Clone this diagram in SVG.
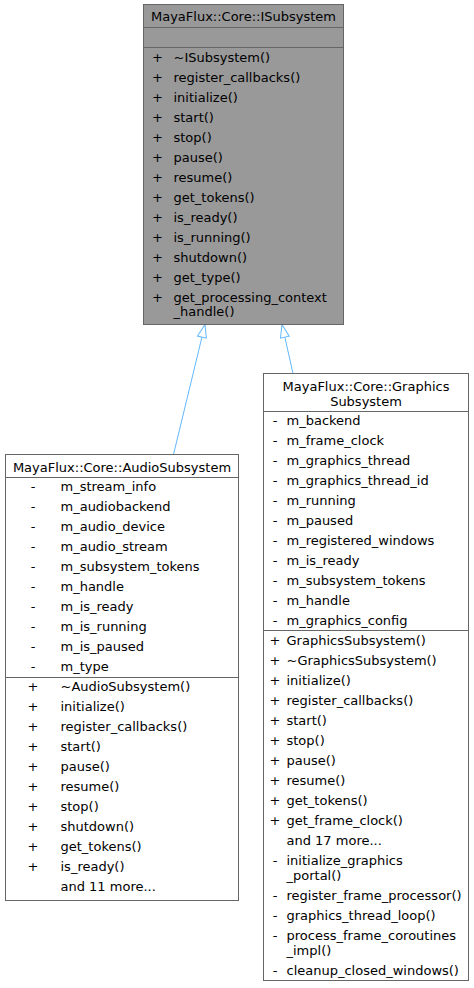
<svg xmlns="http://www.w3.org/2000/svg" width="474" height="988" viewBox="0 0 474 988">
<style>
.t{font-family:"DejaVu Sans","Liberation Sans",sans-serif;font-size:13px;fill:#000}
.m{text-anchor:middle}
.box{stroke:#666666;stroke-width:1}
.sep{stroke:#666666;stroke-width:1;fill:none}
.edge{stroke:#63b8ff;stroke-width:1;fill:none}
</style>
<defs>
<marker id="inh" markerUnits="userSpaceOnUse" markerWidth="16" markerHeight="12" refX="13.5" refY="5" orient="auto" overflow="visible">
<path d="M0.5,0.5 L13.5,5 L0.5,9.5 Z" fill="#ffffff" stroke="#63b8ff" stroke-width="1"/>
</marker>
</defs>
<rect x="0" y="0" width="474" height="988" fill="#ffffff"/>

<g id="edges">
<path class="edge" d="M173.5,454.5 L205,324.5" marker-end="url(#inh)"/>
<path class="edge" d="M293,373.5 L282,324.5" marker-end="url(#inh)"/>
</g>

<g id="node-ISubsystem">
<rect class="box" x="143.5" y="4.5" width="200" height="320" fill="#999999"/>
<line class="sep" x1="143.5" y1="27.5" x2="343.5" y2="27.5"/>
<line class="sep" x1="143.5" y1="47.5" x2="343.5" y2="47.5"/>
<text class="t m" x="243.5" y="21">MayaFlux::Core::ISubsystem</text>
<g class="t">
<text class="t m" x="157.5" y="61.5">+</text><text class="t" x="173.5" y="61.5">~ISubsystem()</text>
<text class="t m" x="157.5" y="81.5">+</text><text class="t" x="173.5" y="81.5">register_callbacks()</text>
<text class="t m" x="157.5" y="101.5">+</text><text class="t" x="173.5" y="101.5">initialize()</text>
<text class="t m" x="157.5" y="121.5">+</text><text class="t" x="173.5" y="121.5">start()</text>
<text class="t m" x="157.5" y="141.5">+</text><text class="t" x="173.5" y="141.5">stop()</text>
<text class="t m" x="157.5" y="161.5">+</text><text class="t" x="173.5" y="161.5">pause()</text>
<text class="t m" x="157.5" y="181.5">+</text><text class="t" x="173.5" y="181.5">resume()</text>
<text class="t m" x="157.5" y="201.5">+</text><text class="t" x="173.5" y="201.5">get_tokens()</text>
<text class="t m" x="157.5" y="221.5">+</text><text class="t" x="173.5" y="221.5">is_ready()</text>
<text class="t m" x="157.5" y="241.5">+</text><text class="t" x="173.5" y="241.5">is_running()</text>
<text class="t m" x="157.5" y="261.5">+</text><text class="t" x="173.5" y="261.5">shutdown()</text>
<text class="t m" x="157.5" y="281.5">+</text><text class="t" x="173.5" y="281.5">get_type()</text>
<text class="t m" x="157.5" y="301.5">+</text><text class="t" x="173.5" y="301.5">get_processing_context</text>
<text class="t" x="173.5" y="316">_handle()</text>
</g>
</g>

<g id="node-AudioSubsystem">
<rect class="box" x="5.5" y="454.5" width="233" height="446" fill="#ffffff"/>
<line class="sep" x1="5.5" y1="477.5" x2="238.5" y2="477.5"/>
<line class="sep" x1="5.5" y1="677.5" x2="238.5" y2="677.5"/>
<text class="t m" x="122" y="471.5">MayaFlux::Core::AudioSubsystem</text>
<text class="t m" x="33" y="491">-</text><text class="t" x="60.5" y="491">m_stream_info</text>
<text class="t m" x="33" y="511">-</text><text class="t" x="60.5" y="511">m_audiobackend</text>
<text class="t m" x="33" y="531">-</text><text class="t" x="60.5" y="531">m_audio_device</text>
<text class="t m" x="33" y="551">-</text><text class="t" x="60.5" y="551">m_audio_stream</text>
<text class="t m" x="33" y="571">-</text><text class="t" x="60.5" y="571">m_subsystem_tokens</text>
<text class="t m" x="33" y="591">-</text><text class="t" x="60.5" y="591">m_handle</text>
<text class="t m" x="33" y="611">-</text><text class="t" x="60.5" y="611">m_is_ready</text>
<text class="t m" x="33" y="631">-</text><text class="t" x="60.5" y="631">m_is_running</text>
<text class="t m" x="33" y="651">-</text><text class="t" x="60.5" y="651">m_is_paused</text>
<text class="t m" x="33" y="671">-</text><text class="t" x="60.5" y="671">m_type</text>
<text class="t m" x="33" y="691">+</text><text class="t" x="60.5" y="691">~AudioSubsystem()</text>
<text class="t m" x="33" y="711">+</text><text class="t" x="60.5" y="711">initialize()</text>
<text class="t m" x="33" y="731">+</text><text class="t" x="60.5" y="731">register_callbacks()</text>
<text class="t m" x="33" y="751">+</text><text class="t" x="60.5" y="751">start()</text>
<text class="t m" x="33" y="771">+</text><text class="t" x="60.5" y="771">pause()</text>
<text class="t m" x="33" y="791">+</text><text class="t" x="60.5" y="791">resume()</text>
<text class="t m" x="33" y="811">+</text><text class="t" x="60.5" y="811">stop()</text>
<text class="t m" x="33" y="831">+</text><text class="t" x="60.5" y="831">shutdown()</text>
<text class="t m" x="33" y="851">+</text><text class="t" x="60.5" y="851">get_tokens()</text>
<text class="t m" x="33" y="871">+</text><text class="t" x="60.5" y="871">is_ready()</text>
<text class="t" x="60.5" y="891">and 11 more...</text>
</g>

<g id="node-GraphicsSubsystem">
<rect class="box" x="263.5" y="373.5" width="205" height="607" fill="#ffffff"/>
<line class="sep" x1="263.5" y1="411.5" x2="468.5" y2="411.5"/>
<line class="sep" x1="263.5" y1="630.5" x2="468.5" y2="630.5"/>
<text class="t m" x="366" y="390.5">MayaFlux::Core::Graphics</text>
<text class="t m" x="366" y="405.5">Subsystem</text>
<text class="t m" x="275" y="424.5">-</text><text class="t" x="286.5" y="424.5">m_backend</text>
<text class="t m" x="275" y="444.5">-</text><text class="t" x="286.5" y="444.5">m_frame_clock</text>
<text class="t m" x="275" y="464.5">-</text><text class="t" x="286.5" y="464.5">m_graphics_thread</text>
<text class="t m" x="275" y="484.5">-</text><text class="t" x="286.5" y="484.5">m_graphics_thread_id</text>
<text class="t m" x="275" y="504.5">-</text><text class="t" x="286.5" y="504.5">m_running</text>
<text class="t m" x="275" y="524.5">-</text><text class="t" x="286.5" y="524.5">m_paused</text>
<text class="t m" x="275" y="544.5">-</text><text class="t" x="286.5" y="544.5">m_registered_windows</text>
<text class="t m" x="275" y="564.5">-</text><text class="t" x="286.5" y="564.5">m_is_ready</text>
<text class="t m" x="275" y="584.5">-</text><text class="t" x="286.5" y="584.5">m_subsystem_tokens</text>
<text class="t m" x="275" y="604.5">-</text><text class="t" x="286.5" y="604.5">m_handle</text>
<text class="t m" x="275" y="624.5">-</text><text class="t" x="286.5" y="624.5">m_graphics_config</text>
<text class="t m" x="275" y="644.5">+</text><text class="t" x="286.5" y="644.5">GraphicsSubsystem()</text>
<text class="t m" x="275" y="664.5">+</text><text class="t" x="286.5" y="664.5">~GraphicsSubsystem()</text>
<text class="t m" x="275" y="684.5">+</text><text class="t" x="286.5" y="684.5">initialize()</text>
<text class="t m" x="275" y="704.5">+</text><text class="t" x="286.5" y="704.5">register_callbacks()</text>
<text class="t m" x="275" y="724.5">+</text><text class="t" x="286.5" y="724.5">start()</text>
<text class="t m" x="275" y="744.5">+</text><text class="t" x="286.5" y="744.5">stop()</text>
<text class="t m" x="275" y="764.5">+</text><text class="t" x="286.5" y="764.5">pause()</text>
<text class="t m" x="275" y="784.5">+</text><text class="t" x="286.5" y="784.5">resume()</text>
<text class="t m" x="275" y="804.5">+</text><text class="t" x="286.5" y="804.5">get_tokens()</text>
<text class="t m" x="275" y="824.5">+</text><text class="t" x="286.5" y="824.5">get_frame_clock()</text>
<text class="t" x="286.5" y="844.5">and 17 more...</text>
<text class="t m" x="275" y="864.5">-</text><text class="t" x="286.5" y="864.5">initialize_graphics</text>
<text class="t" x="286.5" y="879.5">_portal()</text>
<text class="t m" x="275" y="899.5">-</text><text class="t" x="286.5" y="899.5">register_frame_processor()</text>
<text class="t m" x="275" y="919.5">-</text><text class="t" x="286.5" y="919.5">graphics_thread_loop()</text>
<text class="t m" x="275" y="939.5">-</text><text class="t" x="286.5" y="939.5">process_frame_coroutines</text>
<text class="t" x="286.5" y="954.5">_impl()</text>
<text class="t m" x="275" y="974.5">-</text><text class="t" x="286.5" y="974.5">cleanup_closed_windows()</text>
</g>
</svg>
